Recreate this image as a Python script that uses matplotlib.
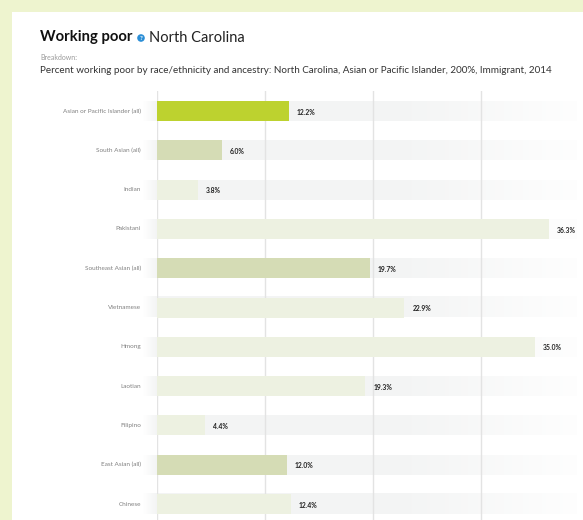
import numpy as np
import matplotlib
matplotlib.use("Agg")
import matplotlib.pyplot as plt
from matplotlib.patches import Rectangle, Circle

categories = ["Asian or Pacific Islander (all)", "South Asian (all)", "Indian", "Pakistani",
              "Southeast Asian (all)", "Vietnamese", "Hmong", "Laotian", "Filipino",
              "East Asian (all)", "Chinese"]
values = [12.2, 6.0, 3.8, 36.3, 19.7, 22.9, 35.0, 19.3, 4.4, 12.0, 12.4]
grid_ticks = [0, 10, 20, 30]

W, H = 583, 520
plt.rcParams["font.family"] = ["Lato", "DejaVu Sans"]
fig = plt.figure(figsize=(W / 100, H / 100), dpi=100)
fig.patch.set_facecolor("#eef4cf")

# white panel
bg = fig.add_axes([0, 0, 1, 1])
bg.set_xlim(0, W)
bg.set_ylim(H, 0)
bg.axis("off")
bg.add_patch(Rectangle((12, 12), W - 12, H - 12, facecolor="white", edgecolor="none"))

# title block
bg.text(40, 37.5, "Working poor", fontsize=10.7, fontweight="bold", color="#111111", va="center")
bg.add_patch(Circle((141, 38), 3.8, facecolor="#2b8ed6", edgecolor="none"))
bg.text(141, 38.3, "?", fontsize=4.5, fontweight="bold", color="white", ha="center", va="center")
bg.text(149, 37.5, "North Carolina", fontsize=10.5, color="#222222", va="center")
bg.text(40, 57, "Breakdown:", fontsize=5, color="#9a9a9a", va="center")
bg.text(40, 70.5, "Percent working poor by race/ethnicity and ancestry: North Carolina, Asian or Pacific Islander, 200%, Immigrant, 2014",
        fontsize=7.08, color="#333333", va="center")

# chart axes: 0% at x=157px, 10.8 px per percent
x0, ppu = 157, 10.8
top, row_h = 91.35, 39.3
ax = fig.add_axes([x0 / W, 0, (W - x0) / W, (H - top) / H])
xmax = (W - x0) / ppu
ymax = (H - top) / row_h - 0.5
ax.set_xlim(0, xmax)
ax.set_ylim(ymax, -0.5)
ax.axis("off")

bar_h = 20 / row_h
ypos = np.arange(len(categories))

# background tracks with fades at both ends
n = 1200
xs = np.linspace(-14 / ppu, 577 / ppu - x0 / ppu, n)
grad = np.ones((1, n, 4))
grad[0, :, :3] = [0.953, 0.957, 0.957]
alpha = np.ones(n)
left = xs < 0
alpha[left] = np.clip((xs[left] + 14 / ppu) / (14 / ppu), 0, 1)
fade_start = 22.0
right = xs > fade_start
alpha[right] = 1 - 0.9 * (xs[right] - fade_start) / (xs[-1] - fade_start)
grad[0, :, 3] = alpha
for y in ypos:
    ax.imshow(grad, extent=(xs[0], xs[-1], y + bar_h / 2, y - bar_h / 2),
              aspect="auto", clip_on=False, zorder=1, interpolation="nearest")

for t in grid_ticks:
    ax.axvline(t, color="#e3e3e3", lw=1, zorder=2)

colors = []
for i, c in enumerate(categories):
    if i == 0:
        colors.append("#bdd22f")
    elif "(all)" in c:
        colors.append("#d5dcb5")
    else:
        colors.append("#edf1e1")
ax.barh(ypos, values, height=bar_h, color=colors, zorder=3)

for y, v, c in zip(ypos, values, categories):
    ax.text(v + 8 / ppu, y + 0.03, f"{v:.1f}%", fontsize=4.9, fontweight="bold",
            color="#222222", va="center", zorder=4)
    ax.text(-16 / ppu, y, c, fontsize=4.6, color="#808080", ha="right", va="center",
            zorder=4, clip_on=False)

ax.set_xlim(0, xmax)
ax.set_ylim(ymax, -0.5)

fig.savefig("out.png", dpi=100, facecolor=fig.get_facecolor())
